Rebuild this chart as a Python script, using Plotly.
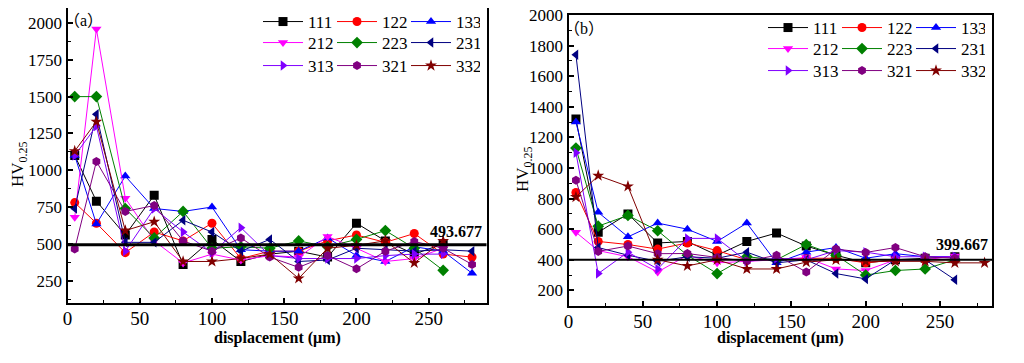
import plotly.graph_objects as go

# ---------------- data ----------------
SERIES = ["111", "122", "133", "212", "223", "231", "313", "321", "332"]
X_A = [5, 20, 40, 60, 80, 100, 120, 140, 160, 180, 200, 220, 240, 260, 280]
X_B = [5, 20, 40, 60, 80, 100, 120, 140, 160, 180, 200, 220, 240, 260, 280]

A_111 = [1100, 790, 560, 830, 360, 530, 380, 430, 450, 410, 640, 520, 430, 500, None]
A_122 = [780, 640, 440, 580, 520, 640, 400, 450, 450, 520, 560, 510, 570, 430, 410]
A_133 = [1100, 635, 960, 740, 720, 750, 460, 450, 450, 540, 420, 380, 480, 450, 300]
A_212 = [680, 1960, 810, 520, 370, 430, 390, 420, 410, 550, 470, 380, 400, 470, None]
A_223 = [1500, 1500, 740, 540, 720, 470, 480, 470, 520, 480, 530, 590, 470, 320, None]
A_231 = [740, 1380, 510, 510, 660, 580, 450, 530, 380, 390, 470, 460, 450, 460, 450]
A_313 = [1100, 1300, 450, 740, 580, 440, 610, 420, 400, 400, 400, 420, 430, 430, None]
A_321 = [465, 1060, 720, 760, 520, 450, 540, 410, 340, 420, 330, 450, 516, 470, 360]
A_332 = [1130, 1330, 590, 650, 380, 380, 400, 430, 265, 470, 490, 520, 370, 520, None]

B_111 = [1320, 580, 700, 510, 520, 430, 520, 575, 490, 430, 380, 400, 410, 420, None]
B_122 = [840, 520, 500, 470, 510, 460, 400, 400, 410, 410, 380, 400, 400, 400, None]
B_133 = [1300, 710, 550, 640, 600, 520, 640, 380, 450, 480, 410, 440, 420, 420, None]
B_212 = [580, 460, 420, 320, 430, 380, 390, 400, 415, 340, 330, 400, 400, 425, None]
B_223 = [1130, 620, 690, 590, 430, 310, 420, 400, 500, 430, 300, 330, 340, 400, None]
B_231 = [1740, 480, 430, 390, 420, 410, 450, 380, 400, 310, 275, 400, 400, 270, None]
B_313 = [1100, 310, 450, 340, 540, 540, 390, 410, 400, 460, 450, 420, 420, 420, None]
B_321 = [920, 455, 490, 440, 441, 415, 390, 430, 320, 470, 448, 480, 420, 410, None]
B_332 = [810, 950, 880, 400, 360, 400, 340, 340, 385, 400, 390, 390, 390, 380, 380]

REF_A = 493.677
REF_B = 399.667

A_VALUES = [A_111, A_122, A_133, A_212, A_223, A_231, A_313, A_321, A_332]
B_VALUES = [B_111, B_122, B_133, B_212, B_223, B_231, B_313, B_321, B_332]

# ---------------- style ----------------
COLORS = ["#000000", "#FF0000", "#0000FF", "#FF00FF", "#008000",
          "#000080", "#8000FF", "#800080", "#800000"]
SYMBOLS = ["square", "circle", "triangle-up", "triangle-down", "diamond",
           "triangle-left", "triangle-right", "hexagon", "star"]
SERIF = "Liberation Serif"

# the page body adds an 8 px margin, so the figure is drawn 8 px smaller
OFF = 8
W, H = 1024 - 2 * OFF, 363 - 2 * OFF


def px2x(p):
    return (p - OFF) / W


def px2y(p):
    return 1 - (p - OFF) / H


fig = go.Figure()

for panel, (xs, vals, xa, ya, legs) in enumerate([
        (X_A, A_VALUES, "x", "y", ["legend", "legend2", "legend3"]),
        (X_B, B_VALUES, "x2", "y2", ["legend4", "legend5", "legend6"])]):
    for i, name in enumerate(SERIES):
        fig.add_trace(go.Scatter(
            x=xs, y=vals[i], name=name, mode="lines+markers",
            xaxis=xa, yaxis=ya, legend=legs[i // 3],
            line=dict(color=COLORS[i], width=1),
            marker=dict(symbol=SYMBOLS[i], color=COLORS[i], size=9,
                        line=dict(width=0)),
            connectgaps=False,
        ))

axis_common = dict(
    showline=True, linecolor="black", linewidth=2, mirror=True,
    ticks="inside", ticklen=5, tickwidth=1.5, tickcolor="black",
    showgrid=False, zeroline=False, automargin=False,
    ticklabeloverflow="allow",
    minor=dict(ticks="inside", ticklen=3, tickwidth=1, tickcolor="black"),
)

fig.update_layout(
    template="none",
    width=W, height=H,
    margin=dict(l=0, r=0, t=0, b=0, autoexpand=False),
    paper_bgcolor="white", plot_bgcolor="white",
    font=dict(family=SERIF, color="black"),
    xaxis=dict(domain=[px2x(67.5), px2x(486.5)], range=[0, 290], dtick=50, tick0=0,
               anchor="y", tickfont=dict(family=SERIF, size=19, color="black"),
               ticklabelstandoff=-3, **axis_common),
    yaxis=dict(domain=[px2y(302.7), px2y(8.3)], range=[100, 2100], dtick=250, tick0=0,
               anchor="x", tickfont=dict(family=SERIF, size=17, color="black"),
               **axis_common),
    xaxis2=dict(domain=[px2x(568.5), px2x(992)], range=[0, 285], dtick=50, tick0=0,
                anchor="y2", tickfont=dict(family=SERIF, size=19, color="black"),
                ticklabelstandoff=-3, **axis_common),
    yaxis2=dict(domain=[px2y(305.7), px2y(15)], range=[100, 2000], dtick=200, tick0=0,
                anchor="x2", tickfont=dict(family=SERIF, size=17, color="black"),
                **axis_common),
    showlegend=True,
)
fig.update_xaxes(minor_dtick=25)
fig.update_yaxes(minor_dtick=125, selector=dict(anchor="x"))
fig.update_yaxes(minor_dtick=100, selector=dict(anchor="x2"))

legend_common = dict(orientation="h", xanchor="left", yanchor="top",
                     bgcolor="rgba(0,0,0,0)", borderwidth=0,
                     font=dict(family=SERIF, size=17, color="black"),
                     entrywidth=19, entrywidthmode="pixels", itemwidth=40,
                     tracegroupgap=0)
rows_a = [4, 25, 48]
rows_b = [10, 31, 53]
LEG_A_X, LEG_B_X = 258, 763
fig.update_layout(
    legend=dict(x=px2x(LEG_A_X), y=px2y(rows_a[0]), **legend_common),
    legend2=dict(x=px2x(LEG_A_X), y=px2y(rows_a[1]), **legend_common),
    legend3=dict(x=px2x(LEG_A_X), y=px2y(rows_a[2]), **legend_common),
    legend4=dict(x=px2x(LEG_B_X), y=px2y(rows_b[0]), **legend_common),
    legend5=dict(x=px2x(LEG_B_X), y=px2y(rows_b[1]), **legend_common),
    legend6=dict(x=px2x(LEG_B_X), y=px2y(rows_b[2]), **legend_common),
)

# reference lines
fig.add_shape(type="line", xref="x domain", yref="y", x0=0, x1=1, y0=REF_A, y1=REF_A,
              line=dict(color="black", width=3))
fig.add_shape(type="line", xref="x2 domain", yref="y2", x0=0, x1=1, y0=REF_B, y1=REF_B,
              line=dict(color="black", width=2))

ann = []
ann.append(dict(xref="x domain", yref="y", x=0.995, y=REF_A, text=f"<b>{REF_A:.3f}</b>",
                showarrow=False, xanchor="right", yanchor="bottom", yshift=3,
                font=dict(family=SERIF, size=16, color="black")))
ann.append(dict(xref="x2 domain", yref="y2", x=0.995, y=REF_B, text=f"<b>{REF_B:.3f}</b>",
                showarrow=False, xanchor="right", yanchor="bottom", yshift=5,
                font=dict(family=SERIF, size=16, color="black")))
ann.append(dict(xref="paper", yref="paper", x=px2x(62), y=px2y(20), text="（a）",
                showarrow=False, xanchor="left", yanchor="middle",
                font=dict(family="Liberation Serif, Noto Sans CJK SC", size=16, color="black")))
ann.append(dict(xref="paper", yref="paper", x=px2x(562), y=px2y(29), text="（b）",
                showarrow=False, xanchor="left", yanchor="middle",
                font=dict(family="Liberation Serif, Noto Sans CJK SC", size=16, color="black")))
for cx in (277, 780):
    ann.append(dict(xref="paper", yref="paper", x=px2x(cx), y=px2y(338),
                    text="<b>displacement (μm)</b>", showarrow=False,
                    xanchor="center", yanchor="middle",
                    font=dict(family=SERIF, size=16, color="black")))
for cx, cy in ((19, 165), (524, 170)):
    ann.append(dict(xref="paper", yref="paper", x=px2x(cx), y=px2y(cy),
                    text="HV<sub>0.25</sub>", showarrow=False, textangle=-90,
                    xanchor="center", yanchor="middle",
                    font=dict(family=SERIF, size=17, color="black")))
fig.update_layout(annotations=ann)

fig.write_html("out.html")
